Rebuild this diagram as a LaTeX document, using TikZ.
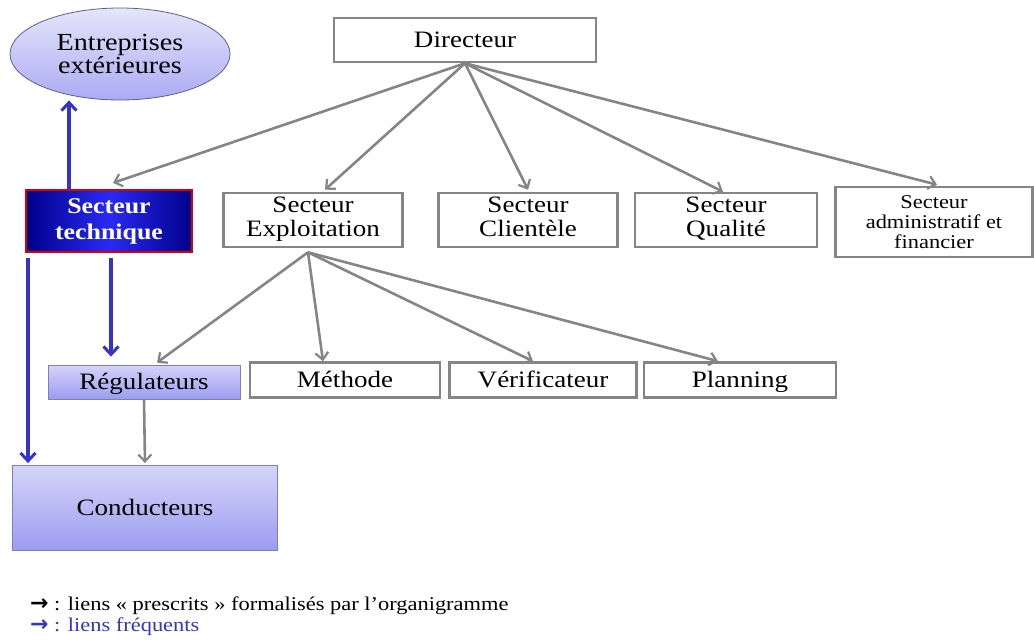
\documentclass[tikz,border=0pt]{standalone}
\usepackage{fontspec}
\setmainfont{Liberation Serif}[FakeStretch=1.15]
\newfontfamily\symf{DejaVu Sans}
\usetikzlibrary{shapes.geometric,arrows.meta,positioning}
\definecolor{linegray}{HTML}{858585}
\definecolor{linkblue}{HTML}{3434CC}
\definecolor{lavtop}{HTML}{D4D4FA}
\definecolor{lavbot}{HTML}{9C9CF0}
\definecolor{techdark}{HTML}{00008A}
\definecolor{techlight}{HTML}{2A2AF5}
\begin{document}
\begin{tikzpicture}[x=1pt,y=-1pt,
  txt/.style={font=\fontsize{23.5}{23}\selectfont, align=center, inner sep=0pt},
  one/.style={text height=16pt, text depth=1pt},
  plainbox/.style={txt, draw=linegray, line width=2.6pt, fill=white},
  lavbox/.style={txt, draw=lavbot!80!black, line width=0.8pt, top color=lavtop, bottom color=lavbot},
  gline/.style={draw=linegray, line width=2.6pt, -{Straight Barb[length=7pt,width=13pt,line width=2.2pt]}},
  bline/.style={draw=linkblue, line width=3.6pt, -{Straight Barb[length=8pt,width=15pt,line width=3pt]}}
]
\useasboundingbox (0,0) rectangle (1034,642);

% nodes
\node[txt, ellipse, draw=lavbot!60!black, line width=0.8pt, top color=lavtop!60!white, bottom color=lavbot!85!white,
      minimum width=220pt, minimum height=92pt, font=\fontsize{24.5}{21}\selectfont] (ent) at (120,54) {Entreprises\\ext\'erieures};
\node[txt, draw=red!85!black, line width=2.2pt, left color=techdark, right color=techdark, middle color=techlight,
      text=white, font=\fontsize{22.5}{26}\selectfont\bfseries,
      minimum width=166pt, minimum height=62pt] (tech) at (109,221) {Secteur\\technique};

\node[plainbox, one, minimum width=262pt, minimum height=44pt] (dir) at (465,40) {Directeur};
\node[plainbox, minimum width=179pt, minimum height=54pt] (exp) at (313,220) {Secteur\strut\\Exploitation\strut};
\node[plainbox, minimum width=179pt, minimum height=54pt] (cli) at (528,220) {Secteur\strut\\Clientèle\strut};
\node[plainbox, minimum width=182pt, minimum height=54pt] (qua) at (726,220) {Secteur\strut\\Qualité\strut};
\node[plainbox, minimum width=197pt, minimum height=70pt, font=\fontsize{19.5}{20}\selectfont] (adm) at (934,222) {Secteur\\administratif et\\financier};

\node[lavbox, one, minimum width=192pt, minimum height=34pt] (reg) at (144,382) {Régulateurs};
\node[plainbox, one, minimum width=190pt, minimum height=35pt] (met) at (345,380) {Méthode};
\node[plainbox, one, minimum width=187pt, minimum height=35pt] (ver) at (543,380) {Vérificateur};
\node[plainbox, one, minimum width=192pt, minimum height=35pt] (pla) at (740,380) {Planning};
\node[lavbox, one, minimum width=265pt, minimum height=85pt] (con) at (145,508) {Conducteurs};

% gray prescribed links
\draw[gline] (dir.south) -- ([xshift=4pt,yshift=6pt]tech.north);
\draw[gline] (dir.south) -- ([xshift=12pt,yshift=2pt]exp.north);
\draw[gline] (dir.south) -- ([yshift=2pt]cli.north);
\draw[gline] (dir.south) -- ([xshift=-3pt]qua.north);
\draw[gline] (dir.south) -- ([xshift=3pt,yshift=1pt]adm.north);
\coordinate (expb) at ([xshift=-5pt,yshift=-4pt]exp.south);
\draw[gline] (expb) -- ([xshift=13pt,yshift=2pt]reg.north);
\draw[gline] (expb) -- ([xshift=-22pt]met.north);
\draw[gline] (expb) -- ([xshift=-10pt]ver.north);
\draw[gline] (expb) -- ([xshift=-22pt]pla.north);
\draw[gline] (reg.south) -- ([yshift=2pt]con.north);

% blue frequent links
\draw[bline] ([xshift=-40pt]tech.north) -- ([xshift=-51pt]ent.south);
\draw[bline] ([xshift=-81pt,yshift=-5pt]tech.south) -- ([xshift=-117pt,yshift=2pt]con.north);
\draw[bline] ([xshift=2pt,yshift=-5pt]tech.south) -- ([xshift=-33pt,yshift=8pt]reg.north);

% legend
\node[anchor=west, inner sep=0pt, font=\fontsize{19.5}{21}\selectfont] (leg1) at (30,606)
  {{\symf\bfseries\fontsize{22}{21}\selectfont →} : liens « prescrits » formalisés par l’organigramme};
\node[anchor=west, inner sep=0pt, font=\fontsize{19.5}{21}\selectfont, text=linkblue] (leg2) at (30,627)
  {{\symf\bfseries\fontsize{22}{21}\selectfont →} : liens fréquents};
\end{tikzpicture}
\end{document}
